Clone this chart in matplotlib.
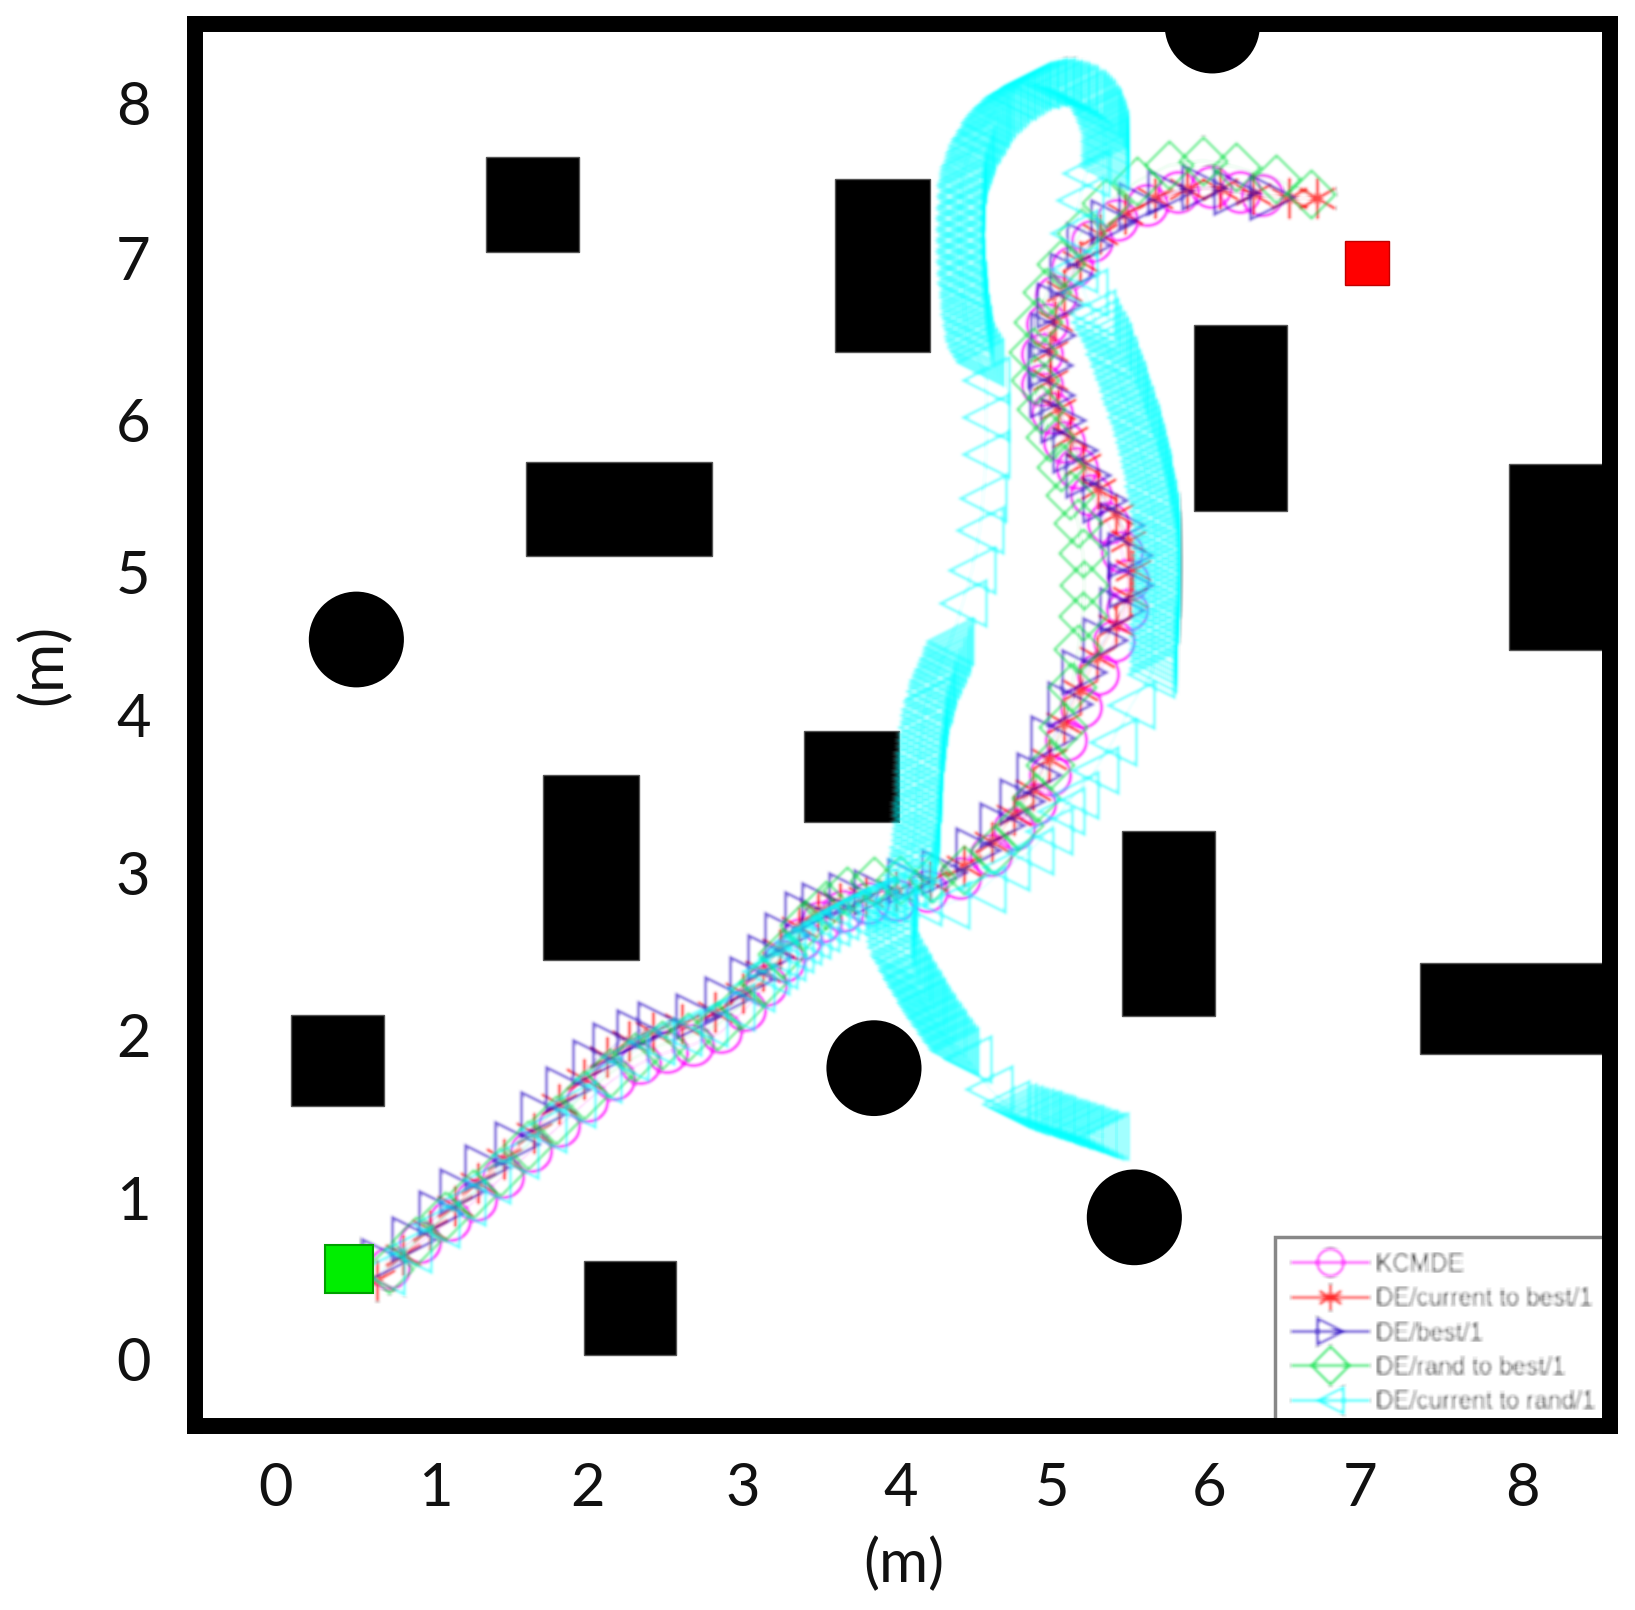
import matplotlib
matplotlib.use("Agg")
import matplotlib.pyplot as plt
from matplotlib.lines import Line2D
from matplotlib.patches import Rectangle, Ellipse
import numpy as np

#obstacles (left, bottom, width, height)
rects = [[1.35, 7.05, 0.60, 0.60], [3.59, 6.41, 0.61, 1.10], [5.89, 5.40, 0.60, 1.18],
         [1.61, 5.11, 1.19, 0.60], [7.91, 4.51, 0.70, 1.19], [3.39, 3.42, 0.61, 0.58],
         [1.72, 2.54, 0.61, 1.18], [5.43, 2.18, 0.60, 1.18], [7.34, 1.94, 1.25, 0.58],
         [0.10, 1.61, 0.60, 0.58], [1.98, 0.02, 0.59, 0.60]]
circles = [[0.52, 4.58], [3.84, 1.85], [5.51, 0.90], [6.01, 8.49]]
circle_d = 0.61

start_pt = [0.47, 0.57]
goal_pt = [7.00, 6.98]

xtick_pos = [0, 1.03, 2.00, 3.00, 4.01, 4.98, 5.99, 6.96, 8.00]
ytick_pos = [0, 1.02, 2.06, 3.09, 4.10, 5.01, 5.98, 7.01, 8.00]
tick_labels = ["0", "1", "2", "3", "4", "5", "6", "7", "8"]

names = ["KCMDE", "DE/current to best/1", "DE/best/1", "DE/rand to best/1", "DE/current to rand/1"]

#paths
best1 = np.array([[0.70,0.62],[0.89,0.76],[1.06,0.93],[1.20,1.07],[1.36,1.22],[1.55,1.37],[1.72,1.56],
    [1.88,1.72],[2.05,1.89],[2.18,2.00],[2.33,2.08],[2.47,2.13],[2.71,2.18],[2.90,2.29],[3.06,2.42],
    [3.17,2.56],[3.28,2.70],[3.41,2.83],[3.52,2.89],[3.69,2.95],[3.85,2.97],[4.07,3.04],[4.29,3.10],
    [4.51,3.24],[4.66,3.40],[4.79,3.55],[4.90,3.72],[4.99,3.95],[5.10,4.17],[5.19,4.37],[5.32,4.58],
    [5.43,4.77],[5.49,4.93],[5.48,5.12],[5.43,5.31],[5.32,5.47],[5.21,5.63],[5.13,5.79],[5.05,5.98],
    [4.98,6.14],[4.97,6.33],[4.99,6.52],[5.03,6.71],[5.11,6.90],[5.22,7.09],[5.37,7.24],[5.55,7.35],
    [5.74,7.43],[5.96,7.46],[6.16,7.43],[6.39,7.40]])

kcmde = np.array([[0.73,0.58],[0.93,0.74],[1.12,0.88],[1.29,1.01],[1.46,1.16],[1.64,1.32],[1.82,1.48],
    [2.00,1.64],[2.17,1.78],[2.34,1.88],[2.51,1.95],[2.68,2.00],[2.86,2.08],[3.01,2.22],[3.15,2.38],
    [3.26,2.53],[3.37,2.67],[3.50,2.78],[3.64,2.85],[3.80,2.90],[3.98,2.92],[4.18,2.98],[4.39,3.06],
    [4.59,3.21],[4.74,3.37],[4.87,3.53],[4.97,3.72],[5.07,3.94],[5.17,4.15],[5.28,4.36],[5.38,4.57],
    [5.46,4.77],[5.47,4.96],[5.43,5.14],[5.34,5.32],[5.23,5.50],[5.14,5.67],[5.06,5.84],[4.98,6.02],
    [4.92,6.20],[4.92,6.40],[4.95,6.59],[5.01,6.77],[5.11,6.95],[5.24,7.12],[5.40,7.25],[5.59,7.35],
    [5.79,7.43],[6.00,7.46],[6.19,7.43],[6.33,7.41]])

cur_best = np.array([[0.65,0.50],[0.82,0.66],[0.99,0.82],[1.15,0.97],[1.30,1.12],[1.47,1.27],[1.66,1.44],
    [1.82,1.62],[1.98,1.78],[2.13,1.92],[2.27,2.02],[2.42,2.08],[2.61,2.13],[2.82,2.21],[3.00,2.33],
    [3.13,2.47],[3.24,2.61],[3.36,2.75],[3.48,2.85],[3.62,2.90],[3.79,2.94],[3.98,2.98],[4.20,3.04],
    [4.42,3.14],[4.60,3.29],[4.74,3.46],[4.86,3.62],[4.96,3.82],[5.06,4.05],[5.16,4.26],[5.27,4.47],
    [5.39,4.67],[5.48,4.85],[5.50,5.02],[5.47,5.21],[5.39,5.38],[5.28,5.54],[5.18,5.70],[5.10,5.87],
    [5.02,6.05],[4.97,6.23],[4.97,6.42],[5.00,6.61],[5.06,6.80],[5.16,6.99],[5.29,7.16],[5.45,7.29],
    [5.64,7.39],[5.85,7.45],[6.06,7.45],[6.27,7.42],[6.50,7.39],[6.68,7.39]])

rand_best = np.array([[0.73,0.57],[0.90,0.75],[1.09,0.91],[1.27,1.05],[1.44,1.19],[1.62,1.36],[1.80,1.52],
    [1.98,1.68],[2.15,1.82],[2.31,1.92],[2.48,2.00],[2.65,2.05],[2.83,2.12],[2.99,2.25],[3.13,2.40],
    [3.25,2.58],[3.39,2.76],[3.53,2.89],[3.67,2.98],[3.84,3.04],[4.01,3.05],[4.21,3.06],[4.42,3.11],
    [4.61,3.24],[4.77,3.40],[4.88,3.57],[4.97,3.78],[5.05,4.02],[5.11,4.28],[5.15,4.52],[5.18,4.73],
    [5.19,4.93],[5.18,5.13],[5.15,5.32],[5.10,5.50],[5.04,5.68],[4.97,5.87],[4.91,6.05],[4.87,6.23],
    [4.86,6.41],[4.89,6.60],[4.95,6.79],[5.04,6.97],[5.17,7.17],[5.33,7.36],[5.53,7.50],[5.73,7.60],
    [5.95,7.63],[6.16,7.59],[6.42,7.51],[6.64,7.42]])

cur_rand = np.array([[0.68,0.56],[0.85,0.70],[1.03,0.86],[1.20,1.00],[1.36,1.14],[1.54,1.30],[1.72,1.46],
    [1.90,1.62],[2.07,1.78],[2.24,1.92],[2.41,2.02],[2.58,2.08],[2.75,2.14],[2.92,2.24],[3.05,2.36],[3.15,2.47],
    [3.20,2.51],[3.25,2.56],[3.30,2.61],[3.35,2.66],[3.41,2.70],[3.47,2.74],[3.53,2.78],[3.59,2.82],[3.65,2.85],
    [3.71,2.88],[3.77,2.90],[3.83,2.92],[3.89,2.94],[3.95,2.95],
    [4.12,2.91],[4.30,2.89],[4.53,2.99],[4.69,3.13],[4.84,3.23],[4.96,3.36],[5.04,3.49],[5.13,3.59],[5.26,3.75],
    [5.37,3.93],[5.49,4.16],[5.62,4.36],
    #right band
    [5.63,4.40],[5.63,4.44],[5.63,4.48],[5.63,4.52],[5.63,4.56],[5.63,4.60],[5.63,4.64],[5.63,4.68],[5.64,4.72],
    [5.64,4.76],[5.64,4.80],[5.64,4.84],[5.65,4.88],[5.65,4.92],[5.65,4.96],[5.65,5.00],[5.65,5.04],[5.65,5.08],
    [5.65,5.12],[5.65,5.16],[5.65,5.20],[5.65,5.24],[5.64,5.28],[5.64,5.32],[5.64,5.36],[5.63,5.40],[5.63,5.44],
    [5.62,5.48],[5.61,5.52],[5.60,5.56],[5.60,5.60],[5.59,5.64],[5.58,5.68],[5.57,5.72],[5.56,5.76],[5.55,5.80],
    [5.54,5.84],[5.53,5.88],[5.52,5.92],[5.51,5.96],[5.49,6.00],[5.48,6.04],[5.46,6.08],[5.45,6.12],[5.44,6.16],
    [5.43,6.20],[5.41,6.24],[5.40,6.28],[5.38,6.32],[5.37,6.36],[5.35,6.40],[5.34,6.44],[5.32,6.48],[5.30,6.52],
    [5.28,6.56],[5.26,6.60],[5.24,6.66],[5.19,6.79],
    [5.12,6.94],[5.12,7.17],[5.16,7.38],[5.20,7.55],
    #top loop
    [5.32,7.59],[5.32,7.62],[5.32,7.65],[5.32,7.68],[5.32,7.71],[5.32,7.74],[5.32,7.77],[5.32,7.80],[5.31,7.83],
    [5.30,7.86],[5.29,7.89],[5.28,7.92],[5.27,7.94],[5.26,7.96],[5.24,7.99],[5.22,8.01],[5.20,8.03],[5.18,8.05],
    [5.16,8.06],[5.13,8.08],[5.11,8.09],[5.08,8.10],[5.06,8.11],[5.03,8.12],[5.01,8.12],[4.98,8.13],[4.96,8.13],
    [4.93,8.13],[4.91,8.13],[4.88,8.12],[4.86,8.12],[4.83,8.11],[4.81,8.10],[4.78,8.08],[4.76,8.07],[4.73,8.05],
    [4.71,8.04],[4.69,8.02],[4.67,8.00],[4.64,7.98],[4.62,7.96],[4.60,7.93],[4.58,7.91],[4.56,7.88],[4.55,7.86],
    [4.53,7.83],[4.52,7.81],[4.50,7.78],[4.49,7.76],[4.47,7.73],[4.46,7.70],[4.45,7.67],[4.44,7.64],[4.43,7.61],
    [4.42,7.58],[4.41,7.55],[4.41,7.52],[4.40,7.49],[4.40,7.46],[4.40,7.42],[4.40,7.39],[4.40,7.35],[4.39,7.32],
    [4.39,7.28],[4.39,7.25],[4.39,7.21],[4.39,7.18],[4.39,7.14],[4.39,7.11],[4.39,7.07],[4.39,7.04],[4.39,7.00],
    [4.40,6.97],[4.40,6.93],[4.40,6.90],[4.40,6.86],[4.41,6.83],[4.41,6.79],[4.41,6.76],[4.42,6.72],[4.42,6.69],
    [4.42,6.65],[4.43,6.62],[4.43,6.58],[4.44,6.55],[4.44,6.51],[4.45,6.48],[4.46,6.44],[4.48,6.41],[4.50,6.38],[4.52,6.35],
    [4.56,6.23],[4.56,6.00],[4.56,5.76],[4.54,5.48],[4.52,5.28],[4.47,5.02],[4.41,4.81],[4.33,4.57],
    #left band
    [4.31,4.53],[4.30,4.50],[4.28,4.46],[4.27,4.43],[4.25,4.39],[4.24,4.36],[4.22,4.32],[4.21,4.29],[4.20,4.25],
    [4.19,4.21],[4.18,4.18],[4.17,4.14],[4.16,4.10],[4.16,4.06],[4.15,4.02],[4.15,3.98],[4.14,3.94],[4.14,3.90],
    [4.13,3.86],[4.13,3.82],[4.13,3.78],[4.12,3.74],[4.12,3.70],[4.12,3.66],[4.12,3.62],[4.12,3.58],[4.11,3.54],
    [4.11,3.50],[4.11,3.46],[4.11,3.42],[4.11,3.38],[4.10,3.34],[4.10,3.30],[4.09,3.26],[4.09,3.22],[4.08,3.18],
    [4.07,3.14],[4.05,3.08],[4.02,3.02],
    #tail
    [3.97,2.90],[3.96,2.86],[3.95,2.82],[3.95,2.78],[3.94,2.74],[3.94,2.70],[3.94,2.66],[3.95,2.62],[3.97,2.58],
    [3.98,2.55],[4.00,2.52],[4.02,2.48],[4.03,2.46],[4.05,2.43],[4.06,2.41],[4.08,2.38],[4.09,2.36],[4.11,2.33],
    [4.12,2.31],[4.14,2.28],[4.15,2.26],[4.17,2.23],[4.18,2.21],[4.20,2.18],[4.21,2.16],[4.23,2.13],[4.25,2.11],
    [4.27,2.08],[4.28,2.06],[4.30,2.03],[4.32,2.01],[4.34,1.98],[4.36,1.96],
    [4.44,1.91],[4.58,1.72],[4.69,1.62],[4.73,1.60],[4.77,1.59],[4.80,1.58],[4.84,1.57],[4.87,1.56],[4.90,1.55],
    [4.93,1.54],[4.96,1.53],[4.99,1.52],[5.02,1.51],[5.05,1.50],[5.08,1.49],[5.11,1.48],[5.14,1.47],[5.17,1.46],
    [5.20,1.45],[5.23,1.44],[5.26,1.43],[5.29,1.42],[5.32,1.42]])

paths = [kcmde, cur_best, best1, rand_best, cur_rand]
colors = ["#ff00ff", "#ff0000", "#2000c0", "#00e040", "#00ffff"]
markers = ["o", (6, 2, 0), ">", "D", "<"]
sizes = [29, 30, 32, 24, 33]
alphas = [0.8, 0.7, 0.6, 0.6, 0.55]
edge_w = [2.6, 2.4, 2.4, 2.2, 2.4]


def blur(im, dpi):
    #soft box blur, the source image is a low resolution scan
    pad = 5
    out = np.pad(im, ((pad, pad), (pad, pad), (0, 0)))
    for axis in (0, 1):
        out = (np.roll(out, -2, axis) + np.roll(out, -1, axis) + out + np.roll(out, 1, axis) + np.roll(out, 2, axis)) / 5
    return out, -pad, -pad


plt.rcParams['font.family'] = ['Lato', 'DejaVu Sans']

fig = plt.figure(figsize=(16.35, 16.10), dpi=100)
ax = fig.add_axes([195 / 1635, 1 - 1426 / 1610, (1610 - 195) / 1635, (1426 - 24) / 1610])
ax.set_xlim(-0.515, 8.561)
ax.set_ylim(-0.429, 8.50)

for r in rects:
    ax.add_patch(Rectangle((r[0], r[1]), r[2], r[3], facecolor="black", edgecolor="#555555", lw=1, zorder=2))
for c in circles:
    ax.add_patch(Ellipse((c[0], c[1]), circle_d, circle_d, facecolor="black", edgecolor="none", zorder=2))

for p, col, m, ms, a, w in zip(paths, colors, markers, sizes, alphas, edge_w):
    line, = ax.plot(p[:, 0], p[:, 1], color=col, marker=m, ms=ms, mfc="none", mew=w, lw=0.6, alpha=a, zorder=3)
    line.set_agg_filter(blur)

ax.plot(start_pt[0], start_pt[1], marker="s", ms=35, mfc="#00ee00", mec="#00a000", mew=1.5, zorder=4)
ax.plot(goal_pt[0], goal_pt[1], marker="s", ms=32, mfc="#ff0000", mec="#c00000", mew=1, zorder=4)

ax.set_xticks(xtick_pos)
ax.set_xticklabels(tick_labels)
ax.set_yticks(ytick_pos)
ax.set_yticklabels(tick_labels)
ax.tick_params(axis="x", length=0, pad=26, labelsize=43, labelcolor="#111111")
ax.tick_params(axis="y", length=0, pad=32, labelsize=43, labelcolor="#111111")
for s in ax.spines.values():
    s.set_linewidth(11.5)
    s.set_edgecolor("black")

ax.set_xlabel("(m)", fontsize=43, color="#111111")
ax.xaxis.set_label_coords((904 - 195) / 1415, -(1564 - 1426) / 1402, transform=ax.transAxes)
ax.xaxis.label.set_va("center")
ax.set_ylabel("(m)", fontsize=43, color="#111111")
ax.yaxis.set_label_coords((44 - 195) / 1415, (1426 - 664) / 1402, transform=ax.transAxes)
ax.yaxis.label.set_va("center")

handles = [Line2D([], [], color=col, marker=m, ms=19, mfc="none", mew=2.2, lw=2.2, alpha=0.7)
           for col, m in zip(colors, markers)]
leg = ax.legend(handles, names, loc="lower right", bbox_to_anchor=(1612 / 1635, 1 - 1430 / 1610),
                bbox_transform=fig.transFigure, prop={"family": "Liberation Sans", "size": 17.6},
                fancybox=False, framealpha=1, edgecolor="#888888", handlelength=3.1, handletextpad=0.35,
                labelspacing=0.5, borderpad=0.68, borderaxespad=0, labelcolor="#333333")
leg.get_frame().set_linewidth(2.5)
leg.set_zorder(2.4)
for t in leg.get_texts():
    t.set_agg_filter(blur)
for h in leg.legend_handles:
    h.set_agg_filter(blur)

fig.savefig("out.png", dpi=100)
